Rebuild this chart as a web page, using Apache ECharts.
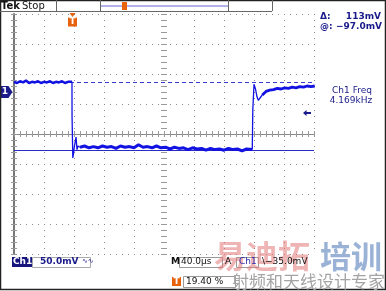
<!DOCTYPE html>
<html><head><meta charset="utf-8">
<script src="https://cdn.jsdelivr.net/npm/echarts@6/dist/echarts.min.js"></script>
<style>html,body{margin:0;padding:0;background:#fff;overflow:hidden}#c{width:386px;height:291px}</style>
</head><body><div id="c"></div>
<script>
// time in microseconds, voltage in mV (Ch1, 50 mV/div, 40 us/div)
const highT = [0, 4, 8, 12, 16, 20, 24, 28, 32, 36, 40, 44, 48, 52, 56, 60, 64, 68, 72, 77.3];
const highV = [17, 15, 18, 16, 19, 15, 17, 16, 18, 15, 17, 16, 18, 15, 17, 16, 18, 15, 17, 17];
const fallT = [77.3, 77.4, 78.4, 79.4, 80.6, 82.7, 84.0, 85.3, 88.0];
const fallV = [17, -40, -110, -102, -90, -75, -96, -90, -92];
const lowT = [88, 94, 100, 106, 112, 118, 124, 130, 136, 142, 148, 154, 160, 166, 172, 178, 184, 190, 196, 202, 208, 214, 220, 226, 232, 238, 244, 250, 256, 262, 268, 274, 280, 286, 292, 298, 304, 310, 317.7];
const lowV = [-92, -90, -93, -91, -93, -90, -92, -91, -94, -90, -92, -91, -93, -88, -92, -91, -93, -90, -93, -92, -95, -92, -94, -93, -96, -93, -95, -94, -97, -94, -96, -95, -97, -94, -96, -95, -98, -95, -96];
const riseT = [317.7, 318.4, 320, 322, 324, 325.7, 328, 331];
const riseV = [-96, -30, 13, 5, -8, -14, -10, -5];
const recT = [331, 336, 341, 346, 351, 356, 361, 366, 371, 376, 381, 386, 391, 396, 401];
const recV = [-5, 1, 3, 4, 6, 5, 7, 6, 8, 7, 9, 8, 10, 9, 10];
const cursorTop = 16;      // mV
const cursorBottom = -97;  // mV
const trigLevel = -35;     // mV
const trigTime = 78;       // us
const divTicksX = [0, 400, 40];
const divTicksY = [-4, 4, 1];

const zip = (a, b) => a.map((t, i) => [t, b[i]]);
const TRACE = '#1212e2';
const NAVY = '#1a1a8a';
const ORANGE = '#e8620c';
const GRID = '#8c8c8c';
const F = 'DejaVu Sans';

const chart = echarts.init(document.getElementById('c'), null, {renderer: 'canvas'});

function xa(extra) {
  return Object.assign({
    type: 'value', min: divTicksX[0], max: divTicksX[1], interval: divTicksX[2],
    axisLabel: {show: false}, splitLine: {show: false},
    axisLine: {show: true, lineStyle: {color: '#888', width: 1}},
    axisTick: {show: true, inside: true, length: 3, lineStyle: {color: '#999'}},
    minorTick: {show: true, splitNumber: 5, length: 3, lineStyle: {color: '#999'}}
  }, extra);
}
function ya(extra) {
  return Object.assign({
    type: 'value', min: divTicksY[0], max: divTicksY[1], interval: divTicksY[2],
    axisLabel: {show: false}, splitLine: {show: false},
    axisLine: {show: true, lineStyle: {color: '#888', width: 1}},
    axisTick: {show: true, inside: true, length: 3, lineStyle: {color: '#999'}},
    minorTick: {show: true, splitNumber: 5, length: 3, lineStyle: {color: '#999'}}
  }, extra);
}

const lineSeries = (name, data, w) => ({
  name, type: 'line', data, xAxisIndex: 0, yAxisIndex: 4,
  showSymbol: false, symbol: 'none', animation: false, silent: true,
  lineStyle: {color: TRACE, width: w}, z: 5
});

const sHigh = lineSeries('high', zip(highT, highV), 2.5);
sHigh.markPoint = {
  silent: true, animation: false,
  data: [
    {coord: [0, 0], symbol: 'path://M0,0 L9,0 L13,6 L9,12 L0,12 Z', symbolSize: [13, 12], symbolKeepAspect: false,
     symbolOffset: [-8, 0], itemStyle: {color: NAVY},
     label: {show: true, formatter: '1', color: '#fff', fontSize: 9, fontWeight: 'bold', fontFamily: F, offset: [-1, 0]}},
    {coord: [trigTime, 130], symbol: 'triangle', symbolRotate: 180, symbolSize: [6, 4],
     symbolOffset: [0, 1], itemStyle: {color: ORANGE}, label: {show: false}},
    {coord: [trigTime, 130], symbol: 'rect', symbolSize: [9, 9],
     symbolOffset: [0, 8], itemStyle: {color: ORANGE},
     label: {show: true, formatter: 'T', color: '#fff', fontSize: 9, fontWeight: 'bold', fontFamily: F}},
    {coord: [400, trigLevel], symbol: 'path://M0,3 L4,0 L4,2 L9,2 L9,4 L4,4 L4,6 Z', symbolSize: [8, 6],
     symbolOffset: [-7, 0], itemStyle: {color: NAVY}, label: {show: false}}
  ]
};
const sFall = lineSeries('fall', zip(fallT, fallV), 1.3);
const sLow = lineSeries('low', zip(lowT, lowV), 3);
sLow.markLine = {
  silent: true, animation: false, symbol: ['none', 'none'], label: {show: false},
  data: [
    {yAxis: cursorTop, lineStyle: {color: '#3a3ad0', width: 1, type: [4, 3]}},
    {yAxis: cursorBottom, lineStyle: {color: '#2a2ac4', width: 1, type: 'solid'}}
  ]
};
const sRise = lineSeries('rise', zip(riseT, riseV), 1.3);
const sRec = lineSeries('rec', zip(recT, recV), 2.8);

const txt = (x, y, s, o) => ({type: 'text', x, y, z: 20, silent: true,
  style: Object.assign({text: s, fontFamily: F, fontSize: 9, fill: NAVY, textVerticalAlign: 'middle'}, o || {})});
const rect = (x, y, w, h, o) => ({type: 'rect', z: 15, silent: true, shape: {x, y, width: w, height: h},
  style: Object.assign({fill: 'none', stroke: '#999', lineWidth: 1}, o || {})});
const ln = (x1, y1, x2, y2, c, w) => ({type: 'line', z: 15, silent: true, shape: {x1, y1, x2, y2},
  style: {stroke: c || '#555', lineWidth: w || 1}});

chart.setOption({
  backgroundColor: '#fff',
  animation: false,
  grid: {left: 14, top: 14, width: 300, height: 240, containLabel: false, show: false},
  xAxis: [
    xa({position: 'bottom', splitLine: {show: true, lineStyle: {color: GRID, width: 1, type: [1, 5]}}}),
    xa({position: 'top', axisLine: {show: false}}),
    xa({position: 'bottom', offset: -120, axisLine: {show: false}}),
    xa({position: 'bottom', offset: -120, axisLine: {show: false}, axisTick: {show: true, inside: false, length: 3, lineStyle: {color: '#999'}}})
  ],
  yAxis: [
    ya({position: 'left', axisLine: {show: true, lineStyle: {color: '#555', width: 1}},
        splitLine: {show: true, lineStyle: {color: GRID, width: 1, type: [1, 5]}}}),
    ya({position: 'right', axisLine: {show: true, lineStyle: {color: '#777', width: 2}}}),
    ya({position: 'left', offset: -150, axisLine: {show: false}}),
    ya({position: 'left', offset: -150, axisLine: {show: false}, axisTick: {show: true, inside: false, length: 3, lineStyle: {color: '#999'}}}),
    {type: 'value', min: -270, max: 130, show: false}
  ],
  series: [sHigh, sFall, sLow, sRise, sRec],
  graphic: [
    // outer frame
    rect(0.5, 0.5, 385, 289, {stroke: '#222', lineWidth: 1.5}),
    // header
    ln(0, 11.5, 272, 11.5, '#666'),
    ln(56.5, 0, 56.5, 11, '#666'),
    ln(100.5, 0, 100.5, 11, '#666'),
    ln(228.5, 0, 228.5, 11, '#666'),
    ln(272.5, 0, 272.5, 11, '#666'),
    ln(101, 6, 228, 6, '#6464cc', 1),
    {type: 'rect', z: 16, silent: true, shape: {x: 122, y: 2, width: 5, height: 8}, style: {fill: ORANGE}},
    ln(124.5, 3, 124.5, 9, '#fff', 1),
    txt(1, 6, 'Tek', {fill: '#111', fontWeight: 'bold', fontSize: 10}),
    txt(22, 6, 'Stop', {fill: '#111', fontSize: 10}),
    // right readouts
    txt(320, 17, 'Δ:', {fontWeight: 'bold'}),
    txt(381, 17, '113mV', {fontWeight: 'bold', textAlign: 'right'}),
    txt(320, 27, '@:', {fontWeight: 'bold'}),
    txt(382, 27, '−97.0mV', {fontWeight: 'bold', textAlign: 'right'}),
    txt(352, 91, 'Ch1 Freq', {textAlign: 'center'}),
    txt(351, 101, '4.169kHz', {textAlign: 'center'}),
    // watermark
    txt(214, 256, '易迪拓', {fontFamily: 'Noto Sans CJK SC', fontSize: 32, fontWeight: 'bold', fill: 'rgba(226,120,120,0.55)'}),
    txt(320, 256, '培训', {fontFamily: 'Noto Sans CJK SC', fontSize: 31, fontWeight: 'bold', fill: 'rgba(110,145,195,0.7)'}),
    txt(232, 282, '射频和天线设计专家', {fontFamily: 'Noto Sans CJK SC', fontSize: 17, fill: '#a4a4a4'}),
    // bottom row 1
    {type: 'rect', z: 16, silent: true, shape: {x: 12, y: 257, width: 20, height: 10}, style: {fill: '#16167c'}},
    txt(13, 262, 'Ch1', {fill: '#fff', fontWeight: 'bold'}),
    rect(32.5, 257.5, 58, 10, {stroke: '#aaa', fill: '#fff'}),
    txt(40, 262, '50.0mV', {fontWeight: 'bold'}),
    txt(82, 261, '∿∿', {fontSize: 7}),
    txt(171, 262, 'M', {fill: '#111', fontWeight: 'bold'}),
    rect(179.5, 257.5, 43, 10, {stroke: '#999', fill: '#fff'}),
    txt(181, 262, '40.0µs', {fill: '#111'}),
    txt(225, 262, 'A', {fill: '#111'}),
    rect(236.5, 257.5, 22, 10, {stroke: '#999', fill: 'rgba(255,255,255,0.3)'}),
    txt(239, 262, 'Ch1', {fill: '#2a2ab0'}),
    txt(262, 262, '\\−35.0mV', {fill: '#111'}),
    // bottom row 2
    {type: 'rect', z: 16, silent: true, shape: {x: 172, y: 277, width: 9, height: 9}, style: {fill: ORANGE}},
    txt(173.5, 281.5, 'T', {fill: '#fff', fontWeight: 'bold', fontSize: 9}),
    rect(183.5, 276.5, 52, 11, {stroke: '#999', fill: '#fff'}),
    txt(186, 282, '19.40 %', {fill: '#111'})
  ]
});
</script></body></html>
